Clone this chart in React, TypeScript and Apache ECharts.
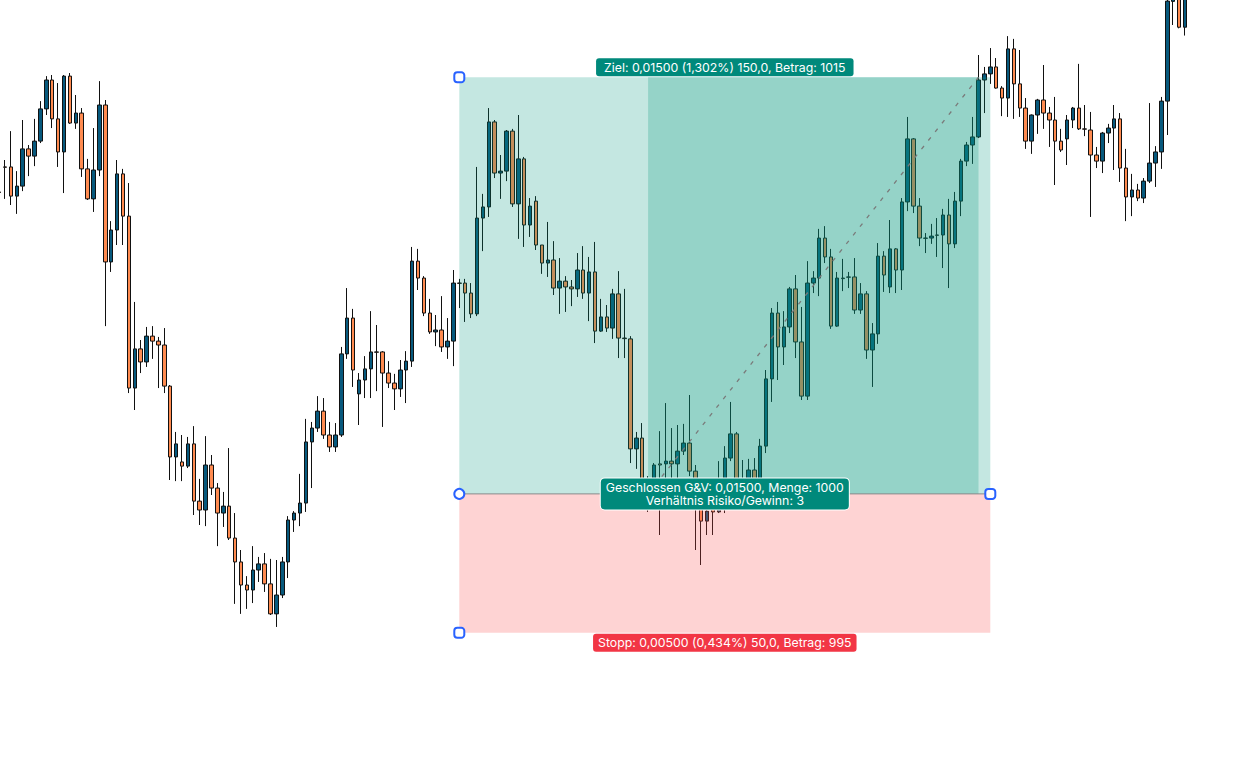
import React, { useEffect, useRef } from 'react';
import * as echarts from 'echarts';

// bar labels (hidden axis), one per slot
const categories: string[] = Array.from({ length: 214 }, (_, i) => `Bar ${i + 1}`);

// [open, close, low, high]
const candles: number[][] = [
  [1.16297, 1.16295, 1.16246, 1.16401], [1.16387, 1.16386, 1.16272, 1.16412], [1.16387, 1.16282, 1.16250, 1.16516],
  [1.16282, 1.16318, 1.16218, 1.16372], [1.16318, 1.16452, 1.16300, 1.16556], [1.16452, 1.16426, 1.16354, 1.16466],
  [1.16426, 1.16480, 1.16390, 1.16560], [1.16480, 1.16596, 1.16473, 1.16624], [1.16596, 1.16700, 1.16574, 1.16714],
  [1.16700, 1.16560, 1.16527, 1.16718], [1.16560, 1.16441, 1.16387, 1.16689], [1.16441, 1.16714, 1.16293, 1.16718],
  [1.16714, 1.16545, 1.16542, 1.16725], [1.16545, 1.16581, 1.16524, 1.16646], [1.16581, 1.16380, 1.16351, 1.16599],
  [1.16380, 1.16272, 1.16268, 1.16416], [1.16272, 1.16376, 1.16225, 1.16527], [1.16376, 1.16610, 1.16354, 1.16696],
  [1.16610, 1.16045, 1.15814, 1.16628], [1.16045, 1.16160, 1.16009, 1.16192], [1.16160, 1.16362, 1.16106, 1.16412],
  [1.16362, 1.16210, 1.16106, 1.16380], [1.16210, 1.15591, 1.15573, 1.16329], [1.15591, 1.15732, 1.15512, 1.15901],
  [1.15732, 1.15685, 1.15645, 1.15764], [1.15685, 1.15778, 1.15667, 1.15811], [1.15778, 1.15760, 1.15696, 1.15814],
  [1.15760, 1.15746, 1.15591, 1.15775], [1.15746, 1.15598, 1.15573, 1.15807], [1.15598, 1.15343, 1.15260, 1.15602],
  [1.15343, 1.15390, 1.15256, 1.15433], [1.15325, 1.15310, 1.15256, 1.15422], [1.15310, 1.15390, 1.15303, 1.15415],
  [1.15390, 1.15184, 1.15134, 1.15454], [1.15184, 1.15152, 1.15098, 1.15264], [1.15152, 1.15314, 1.15094, 1.15418],
  [1.15314, 1.15231, 1.15206, 1.15350], [1.15231, 1.15141, 1.15022, 1.15249], [1.15141, 1.15166, 1.15091, 1.15217],
  [1.15166, 1.15051, 1.15044, 1.15375], [1.15051, 1.14965, 1.14814, 1.15141], [1.14965, 1.14882, 1.14778, 1.15008],
  [1.14882, 1.14864, 1.14796, 1.14914], [1.14864, 1.14936, 1.14817, 1.15022], [1.14936, 1.14958, 1.14893, 1.14983],
  [1.14958, 1.14886, 1.14857, 1.14997], [1.14886, 1.14778, 1.14774, 1.14976], [1.14778, 1.14846, 1.14731, 1.14972],
  [1.14846, 1.14965, 1.14835, 1.14983], [1.14965, 1.15116, 1.14907, 1.15130], [1.15116, 1.15141, 1.15073, 1.15148],
  [1.15141, 1.15177, 1.15094, 1.15282], [1.15177, 1.15397, 1.15145, 1.15480], [1.15397, 1.15447, 1.15231, 1.15469],
  [1.15447, 1.15508, 1.15433, 1.15562], [1.15508, 1.15422, 1.15408, 1.15555], [1.15422, 1.15379, 1.15361, 1.15469],
  [1.15379, 1.15422, 1.15361, 1.15465], [1.15422, 1.15714, 1.15415, 1.15739], [1.15714, 1.15843, 1.15696, 1.15951],
  [1.15843, 1.15656, 1.15595, 1.15876], [1.15570, 1.15620, 1.15458, 1.15645], [1.15620, 1.15660, 1.15555, 1.15706],
  [1.15660, 1.15721, 1.15555, 1.15868], [1.15721, 1.15720, 1.15580, 1.15818], [1.15721, 1.15645, 1.15451, 1.15724],
  [1.15645, 1.15609, 1.15591, 1.15688], [1.15609, 1.15588, 1.15512, 1.15642], [1.15588, 1.15656, 1.15559, 1.15692],
  [1.15656, 1.15688, 1.15537, 1.15724], [1.15688, 1.16048, 1.15667, 1.16099], [1.16048, 1.15987, 1.15944, 1.16092],
  [1.15987, 1.15861, 1.15850, 1.15994], [1.15861, 1.15793, 1.15786, 1.15912], [1.15793, 1.15800, 1.15742, 1.15854],
  [1.15800, 1.15739, 1.15721, 1.15922], [1.15739, 1.15760, 1.15696, 1.15843], [1.15760, 1.15969, 1.15670, 1.16016],
  [1.15969, 1.15968, 1.15879, 1.15984], [1.15969, 1.15933, 1.15829, 1.15984], [1.15933, 1.15858, 1.15843, 1.15969],
  [1.15858, 1.16203, 1.15850, 1.16387], [1.16203, 1.16243, 1.16084, 1.16290], [1.16243, 1.16549, 1.16207, 1.16599],
  [1.16549, 1.16365, 1.16347, 1.16556], [1.16365, 1.16372, 1.16272, 1.16430], [1.16372, 1.16516, 1.16336, 1.16520],
  [1.16516, 1.16254, 1.16243, 1.16524], [1.16254, 1.16416, 1.16128, 1.16574], [1.16416, 1.16178, 1.16099, 1.16423],
  [1.16178, 1.16246, 1.16135, 1.16275], [1.16264, 1.16106, 1.16088, 1.16282], [1.16106, 1.16041, 1.16002, 1.16106],
  [1.16041, 1.16052, 1.15991, 1.16189], [1.16052, 1.15951, 1.15926, 1.16120], [1.15951, 1.15976, 1.15858, 1.16059],
  [1.15976, 1.15955, 1.15865, 1.15994], [1.15955, 1.15948, 1.15886, 1.15980], [1.15948, 1.16016, 1.15919, 1.16077],
  [1.16016, 1.15933, 1.15912, 1.16102], [1.15933, 1.16009, 1.15832, 1.16063], [1.16009, 1.15796, 1.15753, 1.16117],
  [1.15796, 1.15847, 1.15793, 1.15912], [1.15847, 1.15807, 1.15793, 1.15890], [1.15807, 1.15930, 1.15768, 1.15948],
  [1.15930, 1.15771, 1.15699, 1.16012], [1.15771, 1.15769, 1.15699, 1.15948], [1.15768, 1.15372, 1.15321, 1.15778],
  [1.15372, 1.15411, 1.15300, 1.15433], [1.15411, 1.15242, 1.15199, 1.15465], [1.15238, 1.15217, 1.15145, 1.15274],
  [1.15242, 1.15314, 1.15206, 1.15321], [1.15318, 1.15314, 1.15062, 1.15436], [1.15318, 1.15328, 1.15224, 1.15537],
  [1.15328, 1.15318, 1.15242, 1.15447], [1.15318, 1.15364, 1.15260, 1.15458], [1.15364, 1.15393, 1.15350, 1.15462],
  [1.15393, 1.15292, 1.15274, 1.15566], [1.15292, 1.15188, 1.15008, 1.15314], [1.15206, 1.15112, 1.14954, 1.15260],
  [1.15112, 1.15148, 1.15062, 1.15206], [1.15170, 1.15145, 1.15062, 1.15206], [1.15145, 1.15188, 1.15141, 1.15328],
  [1.15188, 1.15339, 1.15141, 1.15382], [1.15339, 1.15426, 1.15328, 1.15541], [1.15426, 1.15231, 1.15206, 1.15433],
  [1.15242, 1.15238, 1.15206, 1.15332], [1.15224, 1.15296, 1.15206, 1.15336], [1.15296, 1.15242, 1.15217, 1.15339],
  [1.15242, 1.15382, 1.15224, 1.15408], [1.15382, 1.15624, 1.15357, 1.15656], [1.15624, 1.15861, 1.15541, 1.15879],
  [1.15861, 1.15739, 1.15620, 1.15901], [1.15739, 1.15811, 1.15674, 1.15868], [1.15811, 1.15948, 1.15789, 1.15955],
  [1.15948, 1.15757, 1.15699, 1.15998], [1.15757, 1.15562, 1.15548, 1.15883], [1.15562, 1.15969, 1.15548, 1.16048],
  [1.15969, 1.15987, 1.15933, 1.16012], [1.15987, 1.16131, 1.15922, 1.16164], [1.16131, 1.16063, 1.16041, 1.16174],
  [1.16063, 1.15814, 1.15804, 1.16092], [1.15814, 1.15987, 1.15811, 1.16009], [1.15987, 1.15985, 1.15940, 1.16056],
  [1.15991, 1.15990, 1.15951, 1.16009], [1.15991, 1.15872, 1.15858, 1.16059], [1.15872, 1.15930, 1.15858, 1.15969],
  [1.15930, 1.15728, 1.15696, 1.15940], [1.15728, 1.15786, 1.15595, 1.15825], [1.15786, 1.16066, 1.15750, 1.16113],
  [1.16066, 1.15998, 1.15937, 1.16084], [1.15955, 1.16092, 1.15933, 1.16196], [1.16092, 1.16016, 1.15933, 1.16095],
  [1.16016, 1.16261, 1.15944, 1.16275], [1.16261, 1.16488, 1.16228, 1.16567], [1.16488, 1.16246, 1.16221, 1.16491],
  [1.16246, 1.16131, 1.16102, 1.16275], [1.16131, 1.16130, 1.16077, 1.16149], [1.16131, 1.16138, 1.16110, 1.16182],
  [1.16142, 1.16141, 1.16063, 1.16203], [1.16142, 1.16214, 1.16023, 1.16236], [1.16214, 1.16110, 1.15951, 1.16272],
  [1.16110, 1.16264, 1.16095, 1.16297], [1.16264, 1.16408, 1.16210, 1.16416], [1.16408, 1.16466, 1.16390, 1.16477],
  [1.16466, 1.16495, 1.16398, 1.16567], [1.16495, 1.16700, 1.16491, 1.16790], [1.16700, 1.16722, 1.16581, 1.16747],
  [1.16722, 1.16747, 1.16686, 1.16815], [1.16747, 1.16671, 1.16669, 1.16779], [1.16671, 1.16635, 1.16570, 1.16678],
  [1.16635, 1.16812, 1.16567, 1.16858], [1.16812, 1.16686, 1.16560, 1.16848], [1.16686, 1.16599, 1.16567, 1.16808],
  [1.16599, 1.16480, 1.16452, 1.16635], [1.16480, 1.16574, 1.16434, 1.16576], [1.16574, 1.16628, 1.16506, 1.16632],
  [1.16628, 1.16581, 1.16524, 1.16754], [1.16581, 1.16556, 1.16459, 1.16603], [1.16556, 1.16480, 1.16322, 1.16639],
  [1.16480, 1.16448, 1.16441, 1.16524], [1.16488, 1.16556, 1.16394, 1.16574], [1.16556, 1.16599, 1.16527, 1.16603],
  [1.16599, 1.16524, 1.16520, 1.16758], [1.16524, 1.16523, 1.16498, 1.16610], [1.16520, 1.16430, 1.16207, 1.16585],
  [1.16430, 1.16408, 1.16383, 1.16459], [1.16408, 1.16509, 1.16365, 1.16513], [1.16509, 1.16527, 1.16473, 1.16542],
  [1.16527, 1.16560, 1.16376, 1.16610], [1.16560, 1.16383, 1.16333, 1.16581], [1.16383, 1.16279, 1.16192, 1.16452],
  [1.16279, 1.16304, 1.16210, 1.16362], [1.16304, 1.16275, 1.16264, 1.16326], [1.16275, 1.16336, 1.16257, 1.16347],
  [1.16336, 1.16401, 1.16329, 1.16617], [1.16401, 1.16441, 1.16315, 1.16462], [1.16441, 1.16624, 1.16380, 1.16639],
  [1.16624, 1.16984, 1.16502, 1.17024], [1.16983, 1.17060, 1.16898, 1.17096], [1.17042, 1.16890, 1.16886, 1.17080],
  [1.16890, 1.17024, 1.16860, 1.17060],
];

// visible price window
const priceMax = 1.16988;
const priceMin = 1.141872;

// long position tool
const positionStartIndex = 78;
const positionEndIndex = 168;
const tradeOpenIndex = 110;
const tradeCloseIndex = 166;
const labelIndex = 123;
const entryPrice = 1.1521;
const targetPrice = 1.1671;
const stopPrice = 1.1471;

const targetLabel = 'Ziel: 0,01500 (1,302%) 150,0, Betrag: 1015';
const closedLabel = 'Geschlossen G&V: 0,01500, Menge: 1000\nVerhältnis Risiko/Gewinn: 3';
const stopLabel = 'Stopp: 0,00500 (0,434%) 50,0, Betrag: 995';

const FONT = 'Inter, Roboto, sans-serif';

export default function App() {
  const ref = useRef<HTMLDivElement>(null);

  useEffect(() => {
    if (!ref.current) return;
    const chart = echarts.init(ref.current, null, { renderer: 'svg' });

    const handleStyle = { fill: '#ffffff', stroke: '#2962ff', lineWidth: 2 };
    const squareHandle = (p: number[]) => ({
      type: 'rect',
      shape: { x: p[0] - 5, y: p[1] - 5, width: 10, height: 10, r: 3 },
      style: handleStyle,
    });

    const option: any = {
      animation: false,
      backgroundColor: '#ffffff',
      grid: { left: 0.15, top: 0, width: 214 * 5.9, height: 778, containLabel: false },
      xAxis: {
        type: 'category',
        data: categories,
        show: false,
        boundaryGap: true,
      },
      yAxis: {
        type: 'value',
        min: priceMin,
        max: priceMax,
        show: false,
        splitLine: { show: false },
      },
      series: [
        {
          type: 'candlestick',
          data: candles,
          barWidth: 4,
          clip: true,
          silent: true,
          z: 2,
          itemStyle: {
            color: '#07597d',
            color0: '#ff8b50',
            borderColor: '#111111',
            borderColor0: '#111111',
            borderWidth: 1,
          },
        },
        {
          type: 'custom',
          z: 10,
          silent: true,
          clip: false,
          data: [[positionStartIndex, entryPrice]],
          encode: { x: 0, y: 1 },
          renderItem: (_params: any, api: any) => {
            const tl = api.coord([positionStartIndex, targetPrice]);
            const el = api.coord([positionStartIndex, entryPrice]);
            const sl = api.coord([positionStartIndex, stopPrice]);
            const er = api.coord([positionEndIndex, entryPrice]);
            const sr = api.coord([positionEndIndex, stopPrice]);
            const open = api.coord([tradeOpenIndex, entryPrice]);
            const close = api.coord([tradeCloseIndex, targetPrice]);
            const midT = api.coord([labelIndex, targetPrice]);
            const midE = api.coord([labelIndex, entryPrice]);
            const midS = api.coord([labelIndex, stopPrice]);
            return {
              type: 'group',
              children: [
                {
                  type: 'rect',
                  shape: { x: tl[0], y: tl[1], width: er[0] - tl[0], height: er[1] - tl[1] },
                  style: { fill: 'rgba(8,153,129,0.24)' },
                },
                {
                  type: 'rect',
                  shape: { x: open[0], y: close[1], width: close[0] - open[0], height: open[1] - close[1] },
                  style: { fill: 'rgba(8,153,129,0.25)' },
                },
                {
                  type: 'rect',
                  shape: { x: el[0], y: el[1], width: sr[0] - el[0], height: sr[1] - el[1] },
                  style: { fill: 'rgba(250,80,80,0.25)' },
                },
                {
                  type: 'line',
                  shape: { x1: el[0], y1: el[1], x2: er[0], y2: er[1] },
                  style: { stroke: '#8a8a8a', lineWidth: 1 },
                },
                {
                  type: 'line',
                  shape: { x1: open[0], y1: open[1], x2: close[0], y2: close[1] },
                  style: { stroke: '#7a7a7a', lineWidth: 1.3, lineDash: [4, 7] },
                },
                {
                  type: 'text',
                  x: midT[0],
                  y: midT[1] - 1,
                  style: {
                    text: targetLabel,
                    fill: '#ffffff',
                    fontSize: 12.3,
                    fontFamily: FONT,
                    lineHeight: 14,
                    align: 'center',
                    verticalAlign: 'bottom',
                    backgroundColor: '#00897b',
                    padding: [2, 8, 2, 8],
                    borderRadius: 3,
                  },
                },
                {
                  type: 'text',
                  x: midE[0],
                  y: midE[1],
                  style: {
                    text: closedLabel,
                    fill: '#ffffff',
                    fontSize: 12.3,
                    fontFamily: FONT,
                    lineHeight: 12.5,
                    align: 'center',
                    verticalAlign: 'middle',
                    backgroundColor: '#00897b',
                    borderColor: '#ffffff',
                    borderWidth: 1,
                    padding: [3, 5, 3, 5],
                    borderRadius: 4,
                  },
                },
                {
                  type: 'text',
                  x: midS[0],
                  y: midS[1] + 1,
                  style: {
                    text: stopLabel,
                    fill: '#ffffff',
                    fontSize: 12.3,
                    fontFamily: FONT,
                    lineHeight: 14,
                    align: 'center',
                    verticalAlign: 'top',
                    backgroundColor: '#f23645',
                    padding: [2, 5, 2, 5],
                    borderRadius: 3,
                  },
                },
                squareHandle(tl),
                {
                  type: 'circle',
                  shape: { cx: el[0], cy: el[1], r: 5 },
                  style: handleStyle,
                },
                squareHandle(er),
                squareHandle(sl),
              ],
            };
          },
        },
      ],
    };

    chart.setOption(option);
    return () => chart.dispose();
  }, []);

  return (
    <div
      ref={ref}
      style={{ position: 'absolute', left: -4, top: 0, width: 1268, height: 778 }}
    />
  );
}
